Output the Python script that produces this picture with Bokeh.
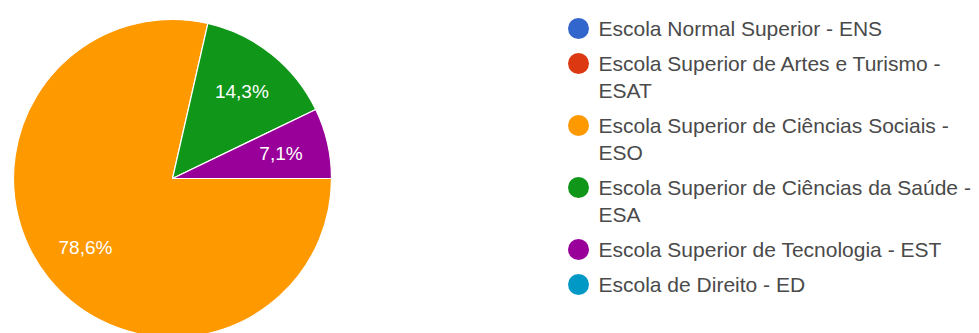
import math
import textwrap
from bokeh.plotting import figure
from bokeh.models import Range1d, ColumnDataSource
from bokeh.core.properties import value
from bokeh.embed import file_html
from bokeh.resources import INLINE

# ---- data ----
categories = [
    "Escola Normal Superior - ENS",
    "Escola Superior de Artes e Turismo - ESAT",
    "Escola Superior de Ciências Sociais - ESO",
    "Escola Superior de Ciências da Saúde - ESA",
    "Escola Superior de Tecnologia - EST",
    "Escola de Direito - ED",
]
counts = [0, 0, 11, 2, 1, 0]
colors = ["#3366cc", "#dc3912", "#ff9900", "#109618", "#990099", "#0099c6"]

W, H = 979, 333
FONT = "Liberation Sans"

p = figure(width=W, height=H, output_backend="svg", toolbar_location=None,
           x_range=Range1d(0, W), y_range=Range1d(0, H), min_border=0)
p.axis.visible = False
p.grid.visible = False
p.outline_line_color = None
p.background_fill_color = "white"
p.border_fill_color = "white"

# ---- pie ----
cx, cy, r = 172, H - 178, 159
total = sum(counts)
starts, ends, cols, lx, ly, ltxt = [], [], [], [], [], []
cum = 0
for c, col in zip(counts, colors):
    if c == 0:
        continue
    a0 = cum / total * 2 * math.pi
    cum += c
    a1 = cum / total * 2 * math.pi
    # clockwise from east
    starts.append(-a1)
    ends.append(-a0)
    cols.append(col)
    mid = -(a0 + a1) / 2
    lx.append(cx + 0.70 * r * math.cos(mid))
    ly.append(cy + 0.70 * r * math.sin(mid))
    ltxt.append(f"{c / total * 100:.1f}%".replace(".", ","))

src = ColumnDataSource(dict(x=[cx] * len(starts), y=[cy] * len(starts),
                            start=starts, end=ends, color=cols))
p.wedge(x="x", y="y", radius=r, start_angle="start", end_angle="end",
        fill_color="color", line_color="white", line_width=1.2, source=src)

p.text(x=lx, y=ly, text=ltxt, text_color="white", text_font=value(FONT),
       text_font_size="19px", text_align="center", text_baseline="middle")

# ---- legend ----
leg_cx, text_x = 578, 598
y = H - 28
line_h, item_gap = 27, 35
dot_x, dot_y, dot_c = [], [], []
tx, ty, tt = [], [], []
for cat, col in zip(categories, colors):
    lines = textwrap.wrap(cat, width=38)
    dot_x.append(leg_cx)
    dot_y.append(y)
    dot_c.append(col)
    for k, ln in enumerate(lines):
        tx.append(text_x)
        ty.append(y - k * line_h)
        tt.append(ln)
    y -= item_gap + line_h * (len(lines) - 1)

p.scatter(x=dot_x, y=dot_y, size=21, fill_color=dot_c, line_color=None)
p.text(x=tx, y=ty, text=tt, text_color="#4a4a4a", text_font=value(FONT),
       text_font_size="21px", text_align="left", text_baseline="middle")

open("out.html", "w").write(file_html(p, INLINE))
